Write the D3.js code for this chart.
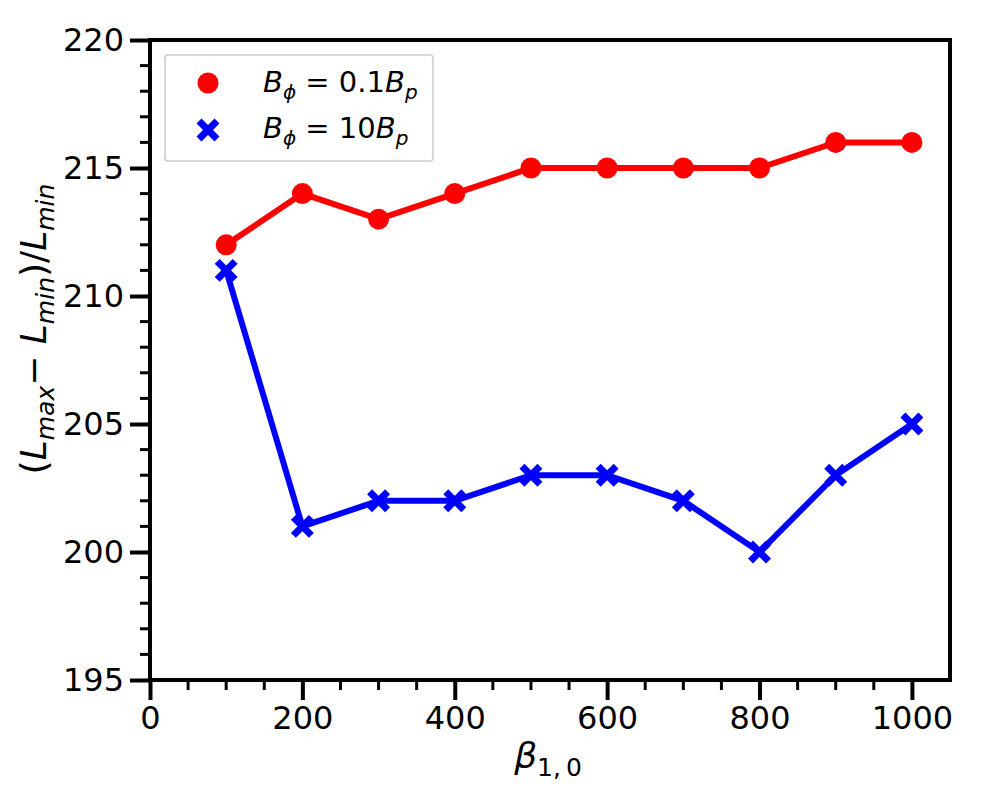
<!DOCTYPE html>
<html lang="en">
<head>
<meta charset="UTF-8">
<title>Lmax-Lmin vs beta</title>
<script src="https://cdn.jsdelivr.net/npm/d3@7"></script>
<style>
  body { margin: 0; background: #fff; }
  svg text { font-family: "DejaVu Sans", sans-serif; fill: #000; }
</style>
</head>
<body>
<svg id="chart" width="1000" height="800"></svg>
<script>
  // data
  const betaValues = [100, 200, 300, 400, 500, 600, 700, 800, 900, 1000];
  const lowToroidal = [212, 214, 213, 214, 215, 215, 215, 215, 216, 216];   // B_phi = 0.1 B_p
  const highToroidal = [211, 201, 202, 202, 203, 203, 202, 200, 203, 205];  // B_phi = 10 B_p
  const xTicks = [0, 200, 400, 600, 800, 1000];
  const yTicks = [195, 200, 205, 210, 215, 220];

  const margin = {left: 150, top: 40, right: 50, bottom: 120};
  const W = 1000, H = 800;
  const svg = d3.select('#chart');

  const x = d3.scaleLinear().domain([0, 1050]).range([margin.left, W - margin.right]);
  const y = d3.scaleLinear().domain([195, 220]).range([H - margin.bottom, margin.top]);

  // frame
  svg.append('rect')
    .attr('x', margin.left).attr('y', margin.top)
    .attr('width', W - margin.left - margin.right)
    .attr('height', H - margin.top - margin.bottom)
    .attr('fill', 'none').attr('stroke', '#000').attr('stroke-width', 4);

  // minor ticks
  const xMinor = d3.range(0, 1050, 50).filter(v => v % 200 !== 0);
  svg.append('g').selectAll('line').data(xMinor).enter().append('line')
    .attr('x1', d => x(d)).attr('x2', d => x(d))
    .attr('y1', y(195)).attr('y2', y(195) + 10)
    .attr('stroke', '#000').attr('stroke-width', 3);
  const yMinor = d3.range(195, 220, 1).filter(v => v % 5 !== 0);
  svg.append('g').selectAll('line').data(yMinor).enter().append('line')
    .attr('x1', x(0) - 10).attr('x2', x(0))
    .attr('y1', d => y(d)).attr('y2', d => y(d))
    .attr('stroke', '#000').attr('stroke-width', 3);

  // major axes
  const xAxis = svg.append('g')
    .attr('transform', `translate(0,${y(195)})`)
    .call(d3.axisBottom(x).tickValues(xTicks).tickFormat(d3.format('d')).tickSize(20).tickPadding(6));
  const yAxis = svg.append('g')
    .attr('transform', `translate(${x(0)},0)`)
    .call(d3.axisLeft(y).tickValues(yTicks).tickFormat(d3.format('d')).tickSize(20).tickPadding(6));
  [xAxis, yAxis].forEach(a => {
    a.select('.domain').remove();
    a.selectAll('.tick line').attr('stroke', '#000').attr('stroke-width', 4);
    a.selectAll('.tick text').style('font-size', '32px');
  });

  // lines
  const line = d3.line().x((d, i) => x(betaValues[i])).y(d => y(d));
  svg.append('path').datum(lowToroidal)
    .attr('d', line).attr('fill', 'none')
    .attr('stroke', '#ff0000').attr('stroke-width', 6);
  svg.append('path').datum(highToroidal)
    .attr('d', line).attr('fill', 'none')
    .attr('stroke', '#0000ff').attr('stroke-width', 6);

  // markers
  svg.append('g').selectAll('circle').data(lowToroidal).enter().append('circle')
    .attr('cx', (d, i) => x(betaValues[i])).attr('cy', d => y(d))
    .attr('r', 10.5).attr('fill', '#ff0000');

  const cross = (g, cx, cy) => {
    const s = 9;
    g.append('path')
      .attr('d', `M${cx - s},${cy - s}L${cx + s},${cy + s}M${cx - s},${cy + s}L${cx + s},${cy - s}`)
      .attr('stroke', '#0000ff').attr('stroke-width', 7);
  };
  const crosses = svg.append('g');
  highToroidal.forEach((d, i) => cross(crosses, x(betaValues[i]), y(d)));

  // legend
  const lg = svg.append('g');
  lg.append('rect')
    .attr('x', 165).attr('y', 55).attr('width', 268).attr('height', 106).attr('rx', 3)
    .attr('fill', '#fff').attr('stroke', '#cccccc').attr('stroke-width', 1.5);
  lg.append('circle').attr('cx', 208).attr('cy', 83).attr('r', 10.5).attr('fill', '#ff0000');
  cross(lg, 208, 130);

  const legendText = (yy, coef) => {
    const t = lg.append('text').attr('x', 263).attr('y', yy).style('font-size', '29px');
    t.append('tspan').attr('font-style', 'italic').text('B');
    t.append('tspan').attr('font-style', 'italic').attr('dy', 7).style('font-size', '20px').text('ϕ');
    t.append('tspan').attr('dy', -7).text(' = ' + coef);
    t.append('tspan').attr('font-style', 'italic').text('B');
    t.append('tspan').attr('font-style', 'italic').attr('dy', 7).style('font-size', '20px').text('p');
  };
  legendText(92, '0.1');
  legendText(138, '10');

  // x label
  const xl = svg.append('text').attr('x', 548).attr('y', 768)
    .attr('text-anchor', 'middle').style('font-size', '36px');
  xl.append('tspan').attr('font-style', 'italic').text('β');
  xl.append('tspan').attr('dy', 8).style('font-size', '25px').text('1,\u20090');

  // y label
  const yl = svg.append('text')
    .attr('transform', `translate(46,329) rotate(-90)`)
    .attr('text-anchor', 'middle').style('font-size', '36px');
  yl.append('tspan').text('(');
  yl.append('tspan').attr('font-style', 'italic').text('L');
  yl.append('tspan').attr('font-style', 'italic').attr('dy', 8).style('font-size', '25px').text('max');
  yl.append('tspan').attr('dy', -8).text('− ');
  yl.append('tspan').attr('font-style', 'italic').text('L');
  yl.append('tspan').attr('font-style', 'italic').attr('dy', 8).style('font-size', '25px').text('min');
  yl.append('tspan').attr('dy', -8).text(')/');
  yl.append('tspan').attr('font-style', 'italic').text('L');
  yl.append('tspan').attr('font-style', 'italic').attr('dy', 8).style('font-size', '25px').text('min');
</script>
</body>
</html>
